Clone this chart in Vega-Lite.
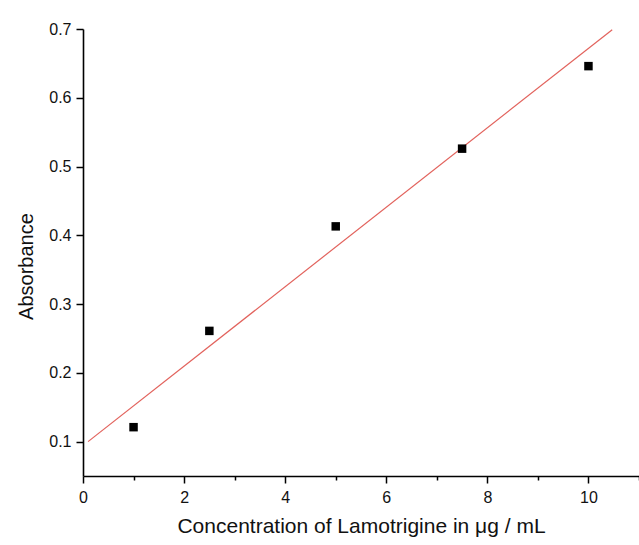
{
  "$schema": "https://vega.github.io/schema/vega-lite/v6.json",
  "width": 556,
  "height": 447,
  "autosize": {"type": "none"},
  "padding": {"left": 83, "top": 29, "right": 0, "bottom": 69},
  "background": "white",
  "config": {
    "view": {"stroke": null},
    "font": "Liberation Sans",
    "axis": {
      "domainColor": "black",
      "domainWidth": 1.6,
      "tickColor": "black",
      "tickWidth": 1.5,
      "labelColor": "#111111",
      "titleColor": "#111111",
      "labelFont": "Liberation Sans",
      "titleFont": "Liberation Sans",
      "labelFontSize": 16,
      "titleFontSize": 20,
      "titleFontWeight": "normal",
      "grid": false
    }
  },
  "datasets": {
    "points": [
      {"conc": 1, "abs": 0.121},
      {"conc": 2.5, "abs": 0.261},
      {"conc": 5, "abs": 0.413},
      {"conc": 7.5, "abs": 0.526},
      {"conc": 10, "abs": 0.646}
    ],
    "fit": [
      {"conc": 0.1, "abs": 0.1},
      {"conc": 10.47, "abs": 0.699}
    ]
  },
  "layer": [
    {
      "data": {"name": "fit"},
      "mark": {"type": "line", "color": "#e2625c", "strokeWidth": 1.2},
      "encoding": {
        "x": {
          "field": "conc",
          "type": "quantitative",
          "scale": {"domain": [0, 11], "nice": false, "zero": false},
          "axis": {
            "title": "Concentration of Lamotrigine in μg / mL",
            "titleFontSize": 21,
            "titlePadding": 10,
            "values": [0, 1, 2, 3, 4, 5, 6, 7, 8, 9, 10, 11],
            "labelExpr": "datum.value % 2 === 0 ? datum.label : ''",
            "tickSize": {"condition": {"test": "datum.value % 2 === 0", "value": 7}, "value": 4},
            "labelPadding": 6,
            "labelFlush": false,
            "labelOverlap": false
          }
        },
        "y": {
          "field": "abs",
          "type": "quantitative",
          "scale": {"domain": [0.05, 0.7], "nice": false, "zero": false},
          "axis": {
            "title": "Absorbance",
            "titlePadding": 12,
            "titleY": 237,
            "values": [0.1, 0.15, 0.2, 0.25, 0.3, 0.35, 0.4, 0.45, 0.5, 0.55, 0.6, 0.65, 0.7],
            "labelExpr": "round(datum.value * 100) % 10 === 0 ? format(datum.value, '.1f') : ''",
            "tickSize": {"condition": {"test": "round(datum.value * 100) % 10 === 0", "value": 7}, "value": 4},
            "labelPadding": 5,
            "labelFlush": false,
            "labelOverlap": false
          }
        }
      }
    },
    {
      "data": {"name": "points"},
      "mark": {"type": "square", "color": "black", "filled": true, "size": 72, "opacity": 1},
      "encoding": {
        "x": {"field": "conc", "type": "quantitative"},
        "y": {"field": "abs", "type": "quantitative"}
      }
    }
  ]
}
